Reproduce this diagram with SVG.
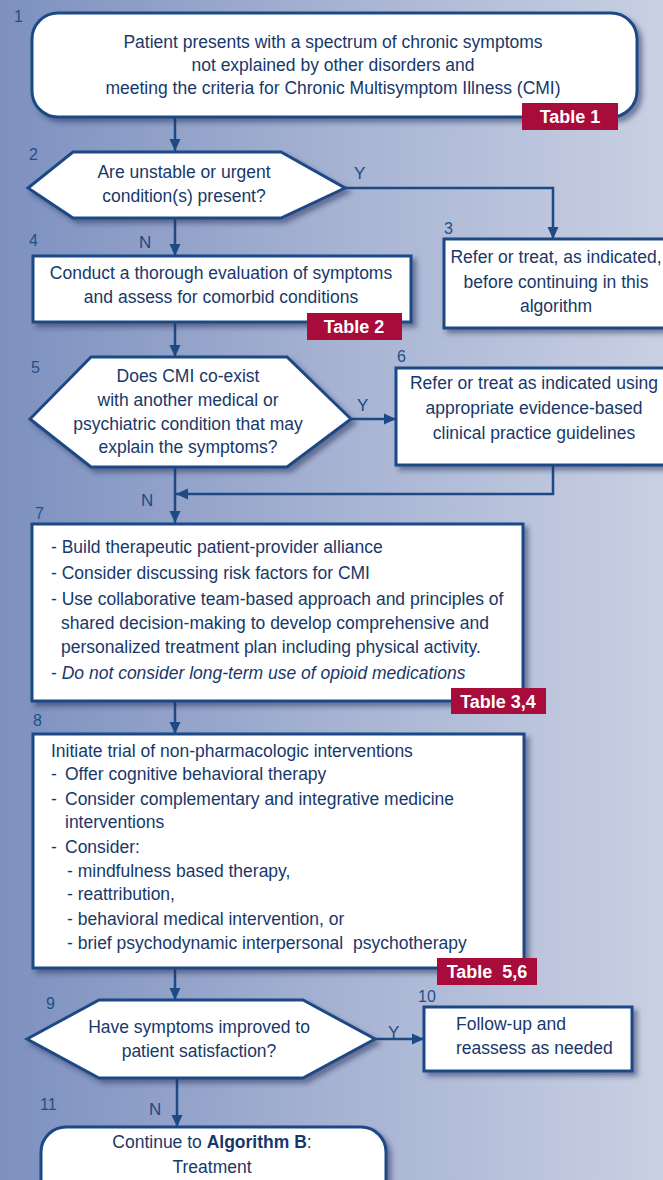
<svg xmlns="http://www.w3.org/2000/svg" width="663" height="1180" viewBox="0 0 663 1180">
<defs>
<linearGradient id="bg" x1="0" y1="0" x2="1" y2="0">
<stop offset="0" stop-color="#7d90bf"/>
<stop offset="0.5" stop-color="#a5b2d2"/>
<stop offset="1" stop-color="#c9d0e3"/>
</linearGradient>
<filter id="sh" x="-10%" y="-10%" width="125%" height="130%">
<feDropShadow dx="4" dy="4" stdDeviation="2.5" flood-color="#1a2a55" flood-opacity="0.5"/>
</filter>
<marker id="ah" markerUnits="userSpaceOnUse" markerWidth="12" markerHeight="12" refX="12" refY="6" orient="auto">
<path d="M0,0.5 L12,6 L0,11.5 z" fill="#1d4a85"/>
</marker>
<style>
.box{fill:#fff;stroke:#1d4a85;stroke-width:3;filter:url(#sh)}
.t{font-family:"Liberation Sans",Arial,sans-serif;font-size:17.5px;fill:#18386a}
.c{text-anchor:middle}
.num{font-family:"Liberation Sans",Arial,sans-serif;font-size:16px;fill:#1f4f8a}
.yn{font-family:"Liberation Sans",Arial,sans-serif;font-size:17px;fill:#1d4a85}
.tag{fill:#a80c3a}
.tagt{font-family:"Liberation Sans",Arial,sans-serif;font-size:18px;font-weight:bold;fill:#fff}
.ln{fill:none;stroke:#1d4a85;stroke-width:2.5;marker-end:url(#ah)}
</style>
</defs>
<rect x="0" y="0" width="663" height="1180" fill="url(#bg)"/>

<g id="connectors">
<path class="ln" d="M175,118 V151"/>
<path class="ln" d="M175,218 V256"/>
<path class="ln" d="M345,188 H553 V239"/>
<path class="ln" d="M175,323 V357"/>
<path class="ln" d="M351,419 H396"/>
<path class="ln" d="M553,465 V494 H176"/>
<path class="ln" d="M175,467 V523"/>
<path class="ln" d="M175,701 V734"/>
<path class="ln" d="M175,968 V1000"/>
<path class="ln" d="M375,1039 H424"/>
<path class="ln" d="M177,1078 V1127"/>
<text class="yn" x="354" y="179">Y</text>
<text class="yn" x="139" y="248">N</text>
<text class="yn" x="357" y="411">Y</text>
<text class="yn" x="141" y="506">N</text>
<text class="yn" x="388" y="1038">Y</text>
<text class="yn" x="149" y="1115">N</text>
</g>

<g id="n1">
<rect class="box" x="32" y="13" width="605" height="104" rx="26"/>
<text class="t c" x="333" y="48">Patient presents with a spectrum of chronic symptoms</text>
<text class="t c" x="333" y="71">not explained by other disorders and</text>
<text class="t c" x="333" y="94">meeting the criteria for Chronic Multisymptom Illness (CMI)</text>
<rect class="tag" x="522" y="103" width="96" height="27"/>
<text class="tagt c" x="570" y="123">Table 1</text>
<text class="num" x="14" y="22">1</text>
</g>

<g id="n2">
<polygon class="box" points="28,188 73,152 281,152 345,188 281,218 73,218"/>
<text class="t c" x="184" y="178">Are unstable or urgent</text>
<text class="t c" x="184" y="202">condition(s) present?</text>
<text class="num" x="29" y="160">2</text>
</g>

<g id="n3">
<rect class="box" x="444" y="239" width="224" height="89"/>
<text class="t c" x="556" y="263">Refer or treat, as indicated,</text>
<text class="t c" x="556" y="288">before continuing in this</text>
<text class="t c" x="556" y="312">algorithm</text>
<text class="num" x="444" y="234">3</text>
</g>

<g id="n4">
<rect class="box" x="33" y="256" width="378" height="66"/>
<text class="t c" x="221" y="279">Conduct a thorough evaluation of symptoms</text>
<text class="t c" x="221" y="303">and assess for comorbid conditions</text>
<rect class="tag" x="307" y="313" width="95" height="27"/>
<text class="tagt c" x="354" y="333">Table 2</text>
<text class="num" x="29" y="246">4</text>
</g>

<g id="n5">
<polygon class="box" points="30,419 91,357 287,357 351,419 287,467 91,467"/>
<text class="t c" x="188" y="382">Does CMI co-exist</text>
<text class="t c" x="188" y="406">with another medical or</text>
<text class="t c" x="188" y="430">psychiatric condition that may</text>
<text class="t c" x="188" y="453">explain the symptoms?</text>
<text class="num" x="31" y="373">5</text>
</g>

<g id="n6">
<rect class="box" x="396" y="368" width="272" height="97"/>
<text class="t c" x="534" y="389">Refer or treat as indicated using</text>
<text class="t c" x="534" y="414">appropriate evidence-based</text>
<text class="t c" x="534" y="439">clinical practice guidelines</text>
<text class="num" x="397" y="362">6</text>
</g>

<g id="n7">
<rect class="box" x="32" y="524" width="491" height="177"/>
<text class="t" x="51" y="553">- Build therapeutic patient-provider alliance</text>
<text class="t" x="51" y="579">- Consider discussing risk factors for CMI</text>
<text class="t" x="51" y="605">- Use collaborative team-based approach and principles of</text>
<text class="t" x="61" y="629">shared decision-making to develop comprehensive and</text>
<text class="t" x="61" y="653">personalized treatment plan including physical activity.</text>
<text class="t" x="51" y="679">- <tspan font-style="italic">Do not consider long-term use of opioid medications</tspan></text>
<rect class="tag" x="451" y="688" width="95" height="26"/>
<text class="tagt c" x="498" y="708">Table 3,4</text>
<text class="num" x="35" y="519">7</text>
</g>

<g id="n8">
<rect class="box" x="33" y="734" width="491" height="234"/>
<text class="t" x="51" y="757">Initiate trial of non-pharmacologic interventions</text>
<text class="t" x="51" y="780">-<tspan x="65">Offer cognitive behavioral therapy</tspan></text>
<text class="t" x="51" y="805">-<tspan x="65">Consider complementary and integrative medicine</tspan></text>
<text class="t" x="65" y="828">interventions</text>
<text class="t" x="51" y="853">-<tspan x="65">Consider:</tspan></text>
<text class="t" x="67" y="877">- mindfulness based therapy,</text>
<text class="t" x="67" y="900">- reattribution,</text>
<text class="t" x="67" y="925">- behavioral medical intervention, or</text>
<text class="t" x="67" y="949" xml:space="preserve">- brief psychodynamic interpersonal  psychotherapy</text>
<rect class="tag" x="437" y="958" width="100" height="27"/>
<text class="tagt c" x="487" y="978" xml:space="preserve">Table  5,6</text>
<text class="num" x="33" y="726">8</text>
</g>

<g id="n9">
<polygon class="box" points="27,1039 99,1000 303,1000 375,1039 303,1078 99,1078"/>
<text class="t c" x="199" y="1033">Have symptoms improved to</text>
<text class="t c" x="199" y="1057">patient satisfaction?</text>
<text class="num" x="46" y="1009">9</text>
</g>

<g id="n10">
<rect class="box" x="424" y="1007" width="208" height="64"/>
<text class="t" x="456" y="1030">Follow-up and</text>
<text class="t" x="456" y="1054">reassess as needed</text>
<text class="num" x="418" y="1002">10</text>
</g>

<g id="n11">
<rect class="box" x="41" y="1127" width="345" height="80" rx="25"/>
<text class="t c" x="212" y="1148">Continue to <tspan font-weight="bold">Algorithm B</tspan>:</text>
<text class="t c" x="212" y="1173">Treatment</text>
<text class="num" x="40" y="1110">11</text>
</g>
</svg>
